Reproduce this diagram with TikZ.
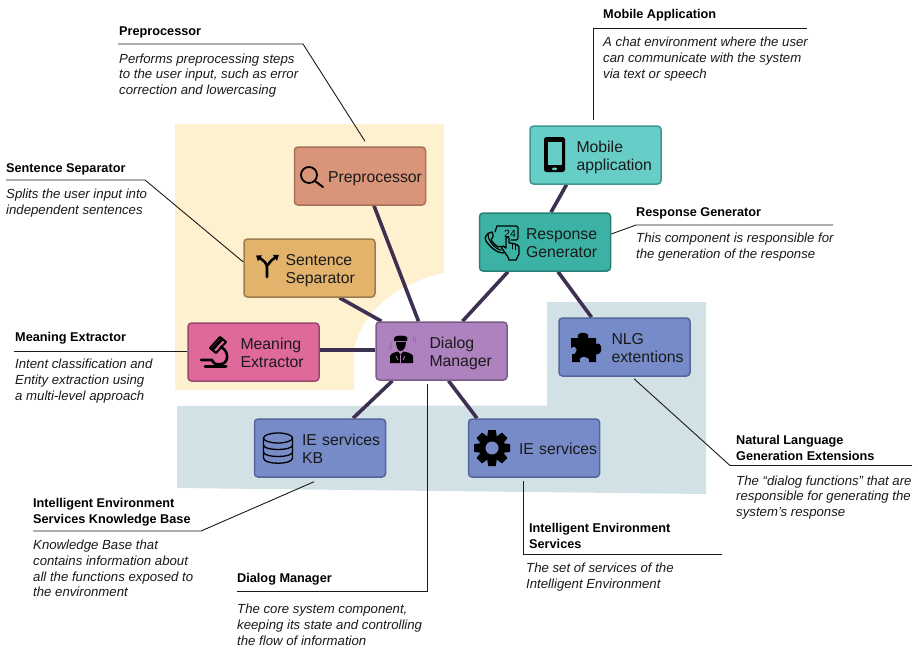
\documentclass[tikz,border=0pt]{standalone}
\usepackage{fontspec}
\setmainfont{Liberation Sans}
\usetikzlibrary{arrows.meta}
\pgfdeclarelayer{bglow}
\pgfdeclarelayer{bglink}
\pgfsetlayers{bglow,bglink,main}
\definecolor{cprep}{HTML}{D9957A}\definecolor{bprep}{HTML}{A6705C}
\definecolor{csent}{HTML}{E3B36C}\definecolor{bsent}{HTML}{9C7C4C}
\definecolor{cmean}{HTML}{E0699B}\definecolor{bmean}{HTML}{984A6E}
\definecolor{cdial}{HTML}{AD82BF}\definecolor{bdial}{HTML}{795C88}
\definecolor{cmobi}{HTML}{66CDC7}\definecolor{bmobi}{HTML}{3F968F}
\definecolor{cresp}{HTML}{3BB2A3}\definecolor{bresp}{HTML}{2A7F75}
\definecolor{cblue}{HTML}{768BC8}\definecolor{bblue}{HTML}{54659A}
\definecolor{zoneY}{HTML}{FEF1CF}\definecolor{zoneB}{HTML}{D2E1E6}
\definecolor{linkc}{HTML}{3D3050}\definecolor{inkc}{HTML}{1A1A1A}
\newcommand{\bt}[2]{\hspace*{\dimexpr#1-1.5pt\relax}\raisebox{0pt}[\dimexpr\height+6pt\relax][\depth]{\begin{tabular}[c]{@{}l@{}}#2\end{tabular}}}
\tikzset{
  box/.style={rectangle,rounded corners=3.5pt,line width=1.5pt,minimum width=131pt,minimum height=58pt,
    text width=131pt,inner sep=0pt,align=left,text=inkc,font=\fontsize{15.8}{18}\selectfont,draw=b#1,fill=c#1},
  link/.style={draw=linkc,line width=3.6pt},
  leader/.style={draw=inkc,line width=0.9pt},
  anntitle/.style={anchor=north west,inner sep=0pt,align=left,text=black,font=\fontsize{12.7}{16}\selectfont\bfseries,execute at begin node=\strut},
  annbody/.style={anchor=north west,inner sep=0pt,align=left,text=inkc,font=\fontsize{13.2}{15.7}\selectfont\itshape,execute at begin node=\strut},
  ico/.style={draw=black,line width=#1,line cap=round,line join=round},
}
\begin{document}
\begin{tikzpicture}[x=1pt,y=-1pt]
\useasboundingbox (0,0) rectangle (918,648);
% boxes
\node[box=prep] (prep) at (360,176) {\bt{35pt}{Preprocessor}};
\node[box=sent] (sent) at (309.5,268) {\bt{43pt}{Sentence\\Separator}};
\node[box=mean] (mean) at (253.5,352) {\bt{54pt}{Meaning\\Extractor}};
\node[box=dial] (dial) at (441.5,351) {\bt{55pt}{Dialog\\Manager}};
\node[box=mobi] (mobi) at (595.5,155) {\bt{48pt}{Mobile\\application}};
\node[box=resp] (resp) at (545,242) {\bt{48pt}{Response\\Generator}};
\node[box=blue] (nlg) at (624.5,347) {\bt{54pt}{NLG\\extentions}};
\node[box=blue] (kb) at (320,448) {\bt{49pt}{IE services\\KB}};
\node[box=blue] (ie) at (534,448) {\bt{52pt}{IE services}};
% zones
\begin{pgfonlayer}{bglow}
\fill[zoneY] (175,124) -- (444,124) -- (444,273) .. controls (400,282) and (362,310) .. (354,350) -- (354,390) -- (175,390) -- cycle;
\fill[zoneB] (177,406) -- (547,405.5) -- (547,302) -- (706,302) -- (706,494) -- (177,488) -- cycle;
\end{pgfonlayer}
% connectors
\begin{pgfonlayer}{bglink}
\draw[link] ([xshift=14pt]prep.south) -- ([xshift=-23pt]dial.north);
\draw[link] ([xshift=30pt]sent.south) -- ([xshift=-60pt]dial.north);
\draw[link] ([yshift=2pt]mean.east) -- ([yshift=1pt]dial.west);
\draw[link] ([xshift=-37pt]resp.south) -- ([xshift=21pt]dial.north);
\draw[link] ([xshift=-29pt]mobi.south) -- ([xshift=6pt]resp.north);
\draw[link] ([xshift=13pt]resp.south) -- ([xshift=-33pt]nlg.north);
\draw[link] ([xshift=-49pt]dial.south) -- ([xshift=33pt]kb.north);
\draw[link] ([xshift=7pt]dial.south) -- ([xshift=-57pt]ie.north);
\end{pgfonlayer}
% annotation texts
\node[anntitle] (tprep) at (119,24) {Preprocessor};
\node[annbody] (dprep) at (119,53.5) {Performs preprocessing steps\\to the user input, such as error\\correction and lowercasing};
\node[anntitle] (tsent) at (6,161) {Sentence Separator};
\node[annbody] (dsent) at (6,189) {Splits the user input into\\independent sentences};
\node[anntitle] (tmean) at (15,330) {Meaning Extractor};
\node[annbody] (dmean) at (15,359) {Intent classification and\\Entity extraction using\\a multi-level approach};
\node[anntitle] (tmobi) at (603,7) {Mobile Application};
\node[annbody] (dmobi) at (603,37) {A chat environment where the user\\can communicate with the system\\via text or speech};
\node[anntitle] (tresp) at (636,205) {Response Generator};
\node[annbody] (dresp) at (636,233) {This component is responsible for\\the generation of the response};
\node[anntitle] (tnlg) at (736,435) {Natural Language\\Generation Extensions};
\node[annbody] (dnlg) at (736,475.5) {The “dialog functions” that are\\responsible for generating the\\system’s response};
\node[anntitle] (tie) at (529,523) {Intelligent Environment\\Services};
\node[annbody] (die) at (526,563) {The set of services of the\\Intelligent Environment};
\node[anntitle] (tkb) at (33,498) {Intelligent Environment\\Services Knowledge Base};
\node[annbody] (dkb) at (33,540) {Knowledge Base that\\contains information about\\all the functions exposed to\\the environment};
\node[anntitle] (tdial) at (237,571) {Dialog Manager};
\node[annbody] (ddial) at (237,604) {The core system component,\\keeping its state and controlling\\the flow of information};
% leaders
\coordinate (ep) at (303,44); \coordinate (sp) at (118,44);
\draw[leader] ([xshift=5pt,yshift=5pt]prep.north) -- (ep) -- (sp);
\coordinate (es) at (145,180); \coordinate (ss) at (6,180);
\draw[leader] ([yshift=6pt]sent.west) -- (es) -- (ss);
\coordinate (sm) at (14,351);
\draw[leader] ([yshift=1pt]mean.west) -- (sm);
\coordinate (emo) at (593,28); \coordinate (smo) at (807,28);
\draw[leader] ([xshift=-2.5pt,yshift=5pt]mobi.north) -- (emo) -- (smo);
\coordinate (er) at (636,225); \coordinate (sr) at (833,225);
\draw[leader] ([yshift=8pt]resp.east) -- (er) -- (sr);
\coordinate (en) at (730,465.5); \coordinate (sn) at (912,465.5);
\draw[leader] ([xshift=9.5pt,yshift=-2pt]nlg.south) -- (en) -- (sn);
\coordinate (ei) at (523,554); \coordinate (si) at (722,554);
\draw[leader] ([xshift=-11pt,yshift=-3pt]ie.south) -- (ei) -- (si);
\coordinate (ed) at (427,591); \coordinate (sd) at (237,591);
\draw[leader] ([xshift=-14.5pt,yshift=-3pt]dial.south) -- (ed) -- (sd);
\coordinate (ek) at (201,531); \coordinate (sk) at (33,531);
\draw[leader] ([xshift=-6pt,yshift=-4pt]kb.south) -- (ek) -- (sk);
% icon: magnifier
\draw[ico=1.8pt] (309,175) circle (8);
\draw[ico=2pt] (315,181) -- (323,187);
% icon: split arrows
\draw[ico=2.6pt,-{Triangle[length=5pt,width=7pt]}] (267,277) -- (267,268) .. controls (267,263) and (264,261) .. (256,255.5);
\draw[ico=2.6pt,-{Triangle[length=5pt,width=7pt]}] (268,265) .. controls (270,261) and (273,259) .. (279,255);
% icon: microscope
\draw[ico=3pt] (222,339) -- (213,349);
\draw[ico=2pt] (220,337) -- (226,342) -- (216,353) -- (210,348) -- cycle;
\draw[ico=2.6pt] (221,347) .. controls (229,351) and (229,362) .. (222,364);
\draw[ico=2.6pt] (201,360) -- (212,360) .. controls (214,364) and (216,365) .. (222,364);
\draw[ico=3pt] (205,366.5) -- (226,366.5);
% icon: agent
\fill[black] (390,363) -- (390,356) .. controls (391,353) and (396,352) .. (398,351.5) -- (400.5,355) -- (403,351.5) .. controls (406,352) and (412,353) .. (413,356) -- (413,363) -- cycle;
\fill[black] (394,339) .. controls (394,336) and (398,335) .. (405,336) .. controls (408,337) and (408,339) .. (407,341) -- (394,341) -- cycle;
\fill[black] (396,342) -- (406,342) .. controls (406,348) and (403,351) .. (400.5,351) .. controls (398,351) and (396,347) .. (396,342) -- cycle;
\draw[draw=gray,line width=1pt] (391,342) -- (391,349) (389,345) -- (389,349) (413,335) -- (413,342) (415,337) -- (415,343);
\draw[cdial,line width=.7pt] (400.5,355) -- (400.5,363) (396,356) -- (398,360) (405,356) -- (403,360);
% icon: phone
\fill[black,rounded corners=2.5pt] (544,137) rectangle (565,172);
\fill[cmobi] (547.5,142) rectangle (561.5,165);
\fill[cmobi,rounded corners=1pt] (552,167.5) rectangle (557,170);
% icon: response
\draw[ico=1.2pt,rounded corners=2pt] (497,226) -- (518,226) -- (518,240) -- (511,240);
\draw[ico=1.2pt] (497,226) -- (495,232);
\node[inner sep=0pt,font=\fontsize{10.5}{11}\selectfont,text=black] (n24) at (510,233.5) {24};
\draw[ico=1.3pt] (492,232) .. controls (486,233) and (484,238) .. (486,241) .. controls (490,247) and (497,253) .. (503,253) .. controls (506,252) and (506,249) .. (504,248) .. controls (501,246) and (500,246) .. (498,247) .. controls (495,245) and (493,243) .. (491,240) .. controls (493,238) and (494,236) .. (492,232) -- cycle;
\draw[ico=1.2pt] (488,234) .. controls (488,241) and (495,249) .. (501,250);
\draw[ico=1.3pt,fill=cresp] (506,238) -- (506,248) -- (503,246) .. controls (501,246) and (501,249) .. (503,250) -- (508,257) -- (509,260) -- (516,260) -- (519,254) -- (519,247) .. controls (518,244) and (512,243) .. (509,243) -- (509,238) .. controls (509,237) and (506,237) .. (506,238) -- cycle;
\draw[ico=.9pt] (512,244) -- (512,249) (515,245) -- (515,250);
% icon: puzzle
\fill[black] (571,338) -- (578,338) .. controls (575,331) and (591,331) .. (588,338) -- (596,338) -- (596,344) .. controls (603,341) and (603,356) .. (596,354) -- (596,362) -- (589,362) .. controls (591,355) and (577,355) .. (580,362) -- (572,362) -- (572,354) .. controls (575,356) and (579,349) .. (575,347) .. controls (574,346) and (573,347) .. (571,348) -- cycle;
% icon: database
\draw[ico=1.3pt] (278,438) ellipse (14.5 and 5);
\draw[ico=1.3pt] (263.5,438) -- (263.5,458) .. controls (263.5,465) and (292.5,465) .. (292.5,458) -- (292.5,438);
\draw[ico=1.3pt] (263.5,445) .. controls (263.5,451) and (292.5,451) .. (292.5,445);
\draw[ico=1.3pt] (263.5,452) .. controls (263.5,458) and (292.5,458) .. (292.5,452);
% icon: gear
\fill[black] (492,448) circle (12.5);
\foreach \a in {0,45,...,315}{
  \fill[black,shift={(492,448)},rotate=\a] (-3.8,-18) -- (3.8,-18) -- (5,-10) -- (-5,-10) -- cycle;
}
\fill[cblue] (492,448) circle (6.5);
\end{tikzpicture}
\end{document}
